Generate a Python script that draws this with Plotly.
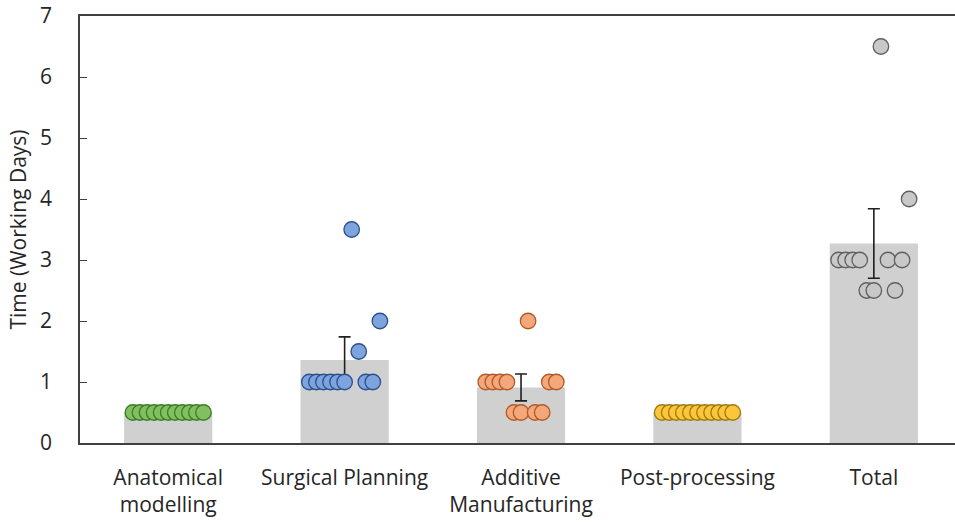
import plotly.graph_objects as go

categories = ["Anatomical<br>modelling", "Surgical Planning", "Additive<br>Manufacturing",
              "Post-processing", "Total"]

# individual samples, in sample order
anatomical = [0.5] * 11
surgical = [1, 1, 1, 1, 1, 1, 3.5, 1.5, 1, 1, 2]
additive = [1, 1, 1, 1, 0.5, 0.5, 2, 0.5, 0.5, 1, 1]
postproc = [0.5] * 11
total = [3, 3, 3, 3, 2.5, 2.5, 6.5, 3, 2.5, 3, 4]

bar_means = [0.5, 1.36, 0.91, 0.5, 3.27]
bar_err = [0.0, 0.38, 0.22, 0.0, 0.57]

series = [anatomical, surgical, additive, postproc, total]
fills = ["#80c060", "#7ea4de", "#f5a77c", "#fdc63a", "#c8c8c8"]
lines = ["#3f7a2a", "#2c4f8f", "#b15a26", "#9c7a12", "#5f5f5f"]

spacing = 0.04

fig = go.Figure()
x_idx = list(range(len(categories)))
fig.add_trace(go.Bar(
    x=x_idx, y=bar_means, width=0.5, marker=dict(color="#d0d0d0", line=dict(width=0)),
    showlegend=False, hoverinfo="skip",
))
ex = [x for x, e in zip(x_idx, bar_err) if e > 0]
ey = [m for m, e in zip(bar_means, bar_err) if e > 0]
ee = [e for e in bar_err if e > 0]
fig.add_trace(go.Scatter(
    x=ex, y=ey, mode="markers", marker=dict(size=0.1, color="rgba(0,0,0,0)"),
    error_y=dict(type="data", array=ee, visible=True, color="#202020", thickness=1.6, width=6),
    showlegend=False, hoverinfo="skip",
))

for i, vals in enumerate(series):
    n = len(vals)
    xs = [i + (k - (n - 1) / 2) * spacing for k in range(n)]
    fig.add_trace(go.Scatter(
        x=xs, y=vals, mode="markers",
        marker=dict(size=15.5, color=fills[i], line=dict(color=lines[i], width=1.3)),
        showlegend=False,
    ))

font_family = "Open Sans"
fig.update_layout(
    width=955, height=522,
    margin=dict(l=80, r=0, t=16, b=79, autoexpand=False),
    plot_bgcolor="white", paper_bgcolor="white",
    font=dict(family=font_family, size=21, color="#262626"),
    xaxis=dict(
        range=[-0.5, 4.46], tickmode="array", tickvals=x_idx, ticktext=categories,
        showline=True, linecolor="#404040", linewidth=1.5, mirror=True,
        ticks="", showgrid=False, zeroline=False, ticklabelstandoff=15,
        tickfont=dict(size=21, color="#262626"),
    ),
    yaxis=dict(
        range=[0, 7], dtick=1, showline=True, linecolor="#404040", linewidth=1.5,
        ticks="inside", ticklen=7, tickcolor="#404040", tickwidth=1.2,
        showgrid=False, zeroline=False, ticklabelstandoff=22,
        title=dict(text="Time (Working Days)", font=dict(size=21, color="#262626"), standoff=8),
        tickfont=dict(size=21, color="#262626"),
    ),
)

fig.write_html("out.html", config={"displayModeBar": False},
               post_script="document.body.style.margin='0';")
